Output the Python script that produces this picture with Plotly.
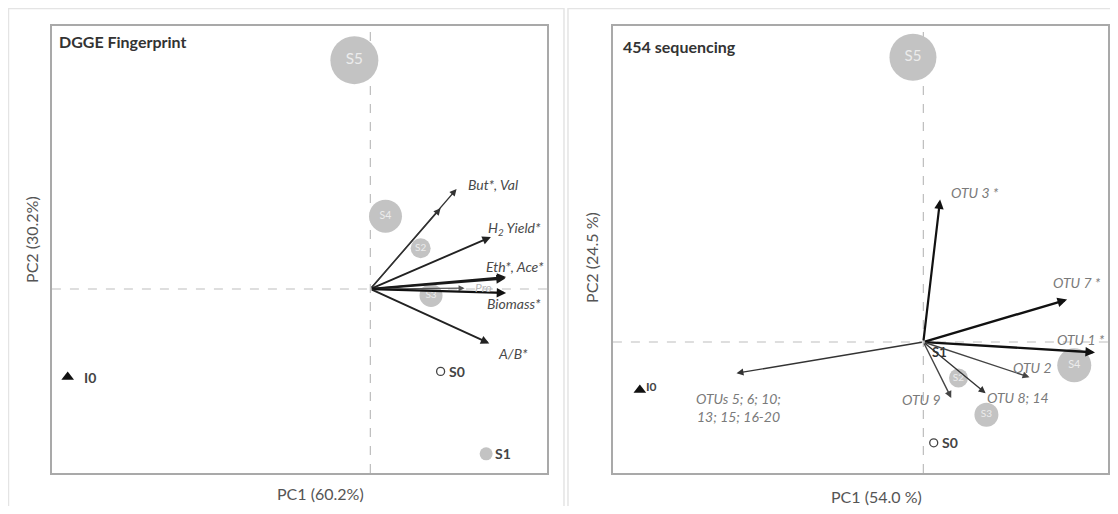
import plotly.graph_objects as go

# The page body keeps an 8 px margin, so the figure is sized to fit inside it
OFF = 8
W, H = 1118 - 2 * OFF, 514 - 2 * OFF

# ---------------- data: DGGE Fingerprint (left) ----------------
dgge_samples = ["S5", "S4", "S2", "S3", "S0", "S1", "I0"]
dgge_pc1 = [-0.20, 0.19, 0.63, 0.76, 0.88, 1.45, -3.79]
dgge_pc2 = [2.86, 0.91, 0.51, -0.08, -1.03, -2.06, -1.10]

dgge_vars = ["But*", "Val", "H2 Yield*", "Eth*", "Ace*", "Pro", "Biomass*", "A/B*"]
dgge_load1 = [1.08, 0.88, 1.51, 1.70, 1.69, 1.18, 1.70, 1.49]
dgge_load2 = [1.25, 1.01, 0.65, 0.15, 0.13, 0.01, -0.05, -0.68]

# ---------------- data: 454 sequencing (right) ----------------
seq_samples = ["S5", "S4", "S3", "S2", "S1", "S0", "I0"]
seq_pc1 = [-0.13, 1.89, 0.79, 0.44, 0.20, 0.13, -3.55]
seq_pc2 = [3.56, -0.29, -0.91, -0.45, -0.12, -1.26, -0.60]

seq_vars = ["OTU 3 *", "OTU 7 *", "OTU 1 *", "OTU 2", "OTU 8; 14", "OTU 9", "OTUs 5; 6; 10;<br>13; 15; 16-20"]
seq_load1 = [0.21, 1.80, 2.15, 1.33, 0.78, 0.35, -2.34]
seq_load2 = [1.78, 0.53, -0.13, -0.44, -0.64, -0.70, -0.39]

FONT = "Lato, 'Open Sans', sans-serif"
fig = go.Figure()

def px_x(p):
    return (p - OFF) / W

def px_y(p):
    return 1 - (p - OFF) / H

# panel geometry (page pixels)
panels = {
    "L": dict(x0=52, x1=548, y0=26, y1=473, ox=371, oy=289),
    "R": dict(x0=614, x1=1110, y0=26, y1=473, ox=925, oy=342),
}
SCALE = 80.0

def axis_ranges(p):
    xr = [-(p["ox"] - p["x0"]) / SCALE, (p["x1"] - p["ox"]) / SCALE]
    yr = [-(p["y1"] - p["oy"]) / SCALE, (p["oy"] - p["y0"]) / SCALE]
    return xr, yr

ax_common = dict(showgrid=False, zeroline=False, showticklabels=False, ticks="",
                 showline=True, mirror=True, linecolor="#a9a9a9", linewidth=2, fixedrange=True)

for key, ax_n in (("L", ""), ("R", "2")):
    p = panels[key]
    xr, yr = axis_ranges(p)
    fig.update_layout(**{
        "xaxis" + ax_n: dict(domain=[px_x(p["x0"]), px_x(p["x1"])], range=xr,
                             anchor="y" + ax_n, **ax_common),
        "yaxis" + ax_n: dict(domain=[px_y(p["y1"]), px_y(p["y0"])], range=yr,
                             anchor="x" + ax_n, **ax_common),
    })

shapes = []
# outer light frames
shapes.append(dict(type="rect", xref="paper", yref="paper", x0=px_x(8.5), x1=px_x(565),
                   y0=px_y(509), y1=px_y(8.5), line=dict(color="#e4e4e4", width=1.5)))
shapes.append(dict(type="rect", xref="paper", yref="paper", x0=px_x(569), x1=px_x(1125),
                   y0=px_y(509), y1=px_y(8.5), line=dict(color="#e4e4e4", width=1.5)))
# dashed zero lines
for xa, ya in (("x", "y"), ("x2", "y2")):
    shapes.append(dict(type="line", xref=xa, yref=ya + " domain", x0=0, x1=0, y0=0, y1=1,
                       line=dict(color="#bdbdbd", width=1.2, dash="dash"), layer="below"))
    shapes.append(dict(type="line", xref=xa + " domain", yref=ya, x0=0, x1=1, y0=0, y1=0,
                       line=dict(color="#bdbdbd", width=1.2, dash="dash"), layer="below"))

annotations = []
LBL = 14

def add_samples(xs, ys, names, xa, ya, sizes, styles):
    for x, y, n in zip(xs, ys, names):
        st = styles[n]
        if st == "bubble":
            fig.add_trace(go.Scatter(x=[x], y=[y], mode="markers+text", text=[n],
                                     textposition="middle center", xaxis=xa, yaxis=ya,
                                     marker=dict(size=sizes[n], color="#c3c3c3", line=dict(width=0)),
                                     textfont=dict(color="#ececec", size=max(10, sizes[n] * 0.32), family=FONT),
                                     showlegend=False, hoverinfo="skip"))
        elif st == "smallbubble":
            fig.add_trace(go.Scatter(x=[x], y=[y], mode="markers", xaxis=xa, yaxis=ya,
                                     marker=dict(size=sizes[n], color="#c3c3c3"),
                                     showlegend=False, hoverinfo="skip"))
            annotations.append(dict(x=x, y=y, xref=xa, yref=ya, text="<b>" + n + "</b>", showarrow=False,
                                    xanchor="left", xshift=sizes[n] / 2,
                                    font=dict(size=LBL, color="#444", family=FONT)))
        elif st == "open":
            fig.add_trace(go.Scatter(x=[x], y=[y], mode="markers", xaxis=xa, yaxis=ya,
                                     marker=dict(size=sizes[n], color="white", line=dict(color="#444", width=1.3)),
                                     showlegend=False, hoverinfo="skip"))
            annotations.append(dict(x=x, y=y, xref=xa, yref=ya, text="<b>" + n + "</b>", showarrow=False,
                                    xanchor="left", xshift=sizes[n] / 2 + 2,
                                    font=dict(size=LBL, color="#444", family=FONT)))
        elif st == "tri":
            fig.add_trace(go.Scatter(x=[x], y=[y], mode="markers", xaxis=xa, yaxis=ya,
                                     marker=dict(size=sizes[n], color="#111", symbol="triangle-up"),
                                     showlegend=False, hoverinfo="skip"))
        elif st == "label":
            annotations.append(dict(x=x, y=y, xref=xa, yref=ya, text="<b>" + n + "</b>", showarrow=False,
                                    xanchor="center", font=dict(size=LBL - 1, color="#333", family=FONT)))

# left samples
add_samples(dgge_pc1, dgge_pc2, dgge_samples, "x", "y",
            {"S5": 48, "S4": 33, "S2": 20, "S3": 23, "S0": 8, "S1": 13, "I0": 11},
            {"S5": "bubble", "S4": "bubble", "S2": "bubble", "S3": "bubble",
             "S0": "open", "S1": "smallbubble", "I0": "tri"})
annotations.append(dict(x=dgge_pc1[6], y=dgge_pc2[6], xref="x", yref="y", text="<b>I0</b>",
                        showarrow=False, xanchor="left", xshift=14,
                        font=dict(size=LBL, color="#444", family=FONT)))

# right samples
add_samples(seq_pc1, seq_pc2, seq_samples, "x2", "y2",
            {"S5": 47, "S4": 34, "S3": 24, "S2": 19, "S1": 6, "S0": 8, "I0": 11},
            {"S5": "bubble", "S4": "bubble", "S3": "bubble", "S2": "bubble",
             "S1": "label", "S0": "open", "I0": "tri"})
annotations.append(dict(x=seq_pc1[6], y=seq_pc2[6], xref="x2", yref="y2", text="<b>I0</b>",
                        showarrow=False, xanchor="left", xshift=4, yshift=4,
                        font=dict(size=LBL - 2, color="#444", family=FONT)))

# arrows (loading vectors) from the origin
def add_arrows(l1, l2, xa, ya, widths, colors, sizes):
    for x, y, w, c, s in zip(l1, l2, widths, colors, sizes):
        annotations.append(dict(x=x, y=y, ax=0, ay=0, xref=xa, yref=ya, axref=xa, ayref=ya,
                                text="", showarrow=True, arrowhead=2, arrowsize=s,
                                arrowwidth=w, arrowcolor=c, standoff=0))

add_arrows(dgge_load1, dgge_load2, "x", "y",
           [1.4, 1.4, 1.9, 2.0, 2.0, 1.2, 2.2, 1.9],
           ["#333", "#333", "#222", "#1a1a1a", "#1a1a1a", "#555", "#111", "#222"],
           [1.0, 1.0, 0.9, 0.9, 0.9, 1.0, 0.85, 0.9])
add_arrows(seq_load1, seq_load2, "x2", "y2",
           [2.2, 2.4, 2.4, 1.4, 1.4, 1.4, 1.4],
           ["#111", "#111", "#111", "#444", "#333", "#444", "#333"],
           [0.85, 0.8, 0.8, 1.0, 1.0, 1.0, 1.0])

# arrow labels (pixel offsets from the vector tips)
dgge_label_text = ["But*, Val", "H<sub>2</sub> Yield*", "Eth*, Ace*", "Pro", "Biomass*", "A/B*"]
dgge_label_of = [0, 2, 3, 5, 6, 7]
dgge_label_shift = [(36, 5), (24, 9), (9, 11), (19, 1), (8, -10), (24, -10)]
dgge_label_col = ["#4a4a4a", "#4a4a4a", "#4a4a4a", "#b8b8b8", "#4a4a4a", "#4a4a4a"]
dgge_label_size = [14, 14, 14, 12, 14, 14]
for t, i, (dx, dy), c, s in zip(dgge_label_text, dgge_label_of, dgge_label_shift, dgge_label_col, dgge_label_size):
    annotations.append(dict(x=dgge_load1[i], y=dgge_load2[i], xref="x", yref="y", text="<i>" + t + "</i>",
                            showarrow=False, xshift=dx, yshift=dy, xanchor="center",
                            font=dict(size=s, color=c, family=FONT)))

seq_label_shift = [(35, 7), (10, 17), (-14, 13), (3, 10), (32, -4), (-30, -1), (2, -34)]
for t, x, y, (dx, dy) in zip(seq_vars, seq_load1, seq_load2, seq_label_shift):
    annotations.append(dict(x=x, y=y, xref="x2", yref="y2", text="<i>" + t + "</i>",
                            showarrow=False, xshift=dx, yshift=dy, xanchor="center",
                            font=dict(size=14, color="#7a7a7a", family=FONT)))

# panel titles
annotations.append(dict(x=px_x(57), y=px_y(42), xref="paper", yref="paper", text="<b>DGGE Fingerprint</b>",
                        showarrow=False, xanchor="left", yanchor="middle",
                        font=dict(size=16, color="#333", family=FONT)))
annotations.append(dict(x=px_x(622), y=px_y(46), xref="paper", yref="paper", text="<b>454 sequencing</b>",
                        showarrow=False, xanchor="left", yanchor="middle",
                        font=dict(size=16, color="#333", family=FONT)))

# axis titles
for txt, x, y, ang in (("PC1 (60.2%)", 321, 493, 0), ("PC2 (30.2%)", 31, 239, -90),
                       ("PC1 (54.0 %)", 878, 496, 0), ("PC2 (24.5 %)", 592, 257, -90)):
    annotations.append(dict(x=px_x(x), y=px_y(y), xref="paper", yref="paper", text=txt,
                            showarrow=False, textangle=ang, xanchor="center", yanchor="middle",
                            font=dict(size=16, color="#555", family=FONT)))

fig.update_layout(width=W, height=H, margin=dict(l=0, r=0, t=0, b=0),
                  paper_bgcolor="white", plot_bgcolor="white",
                  shapes=shapes, annotations=annotations, showlegend=False)

fig.write_html("out.html")
